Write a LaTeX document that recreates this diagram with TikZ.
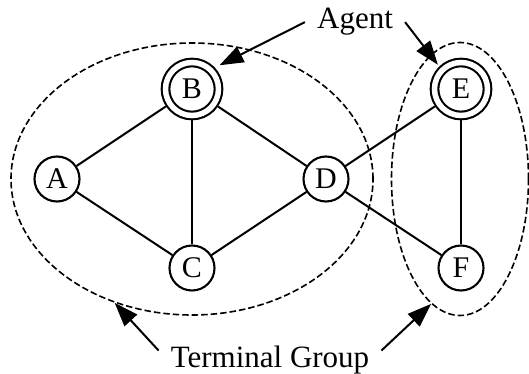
\documentclass[tikz,border=0pt]{standalone}
\usepackage{fontspec}
\setmainfont{Liberation Serif}
\usepackage{tikz}
\usetikzlibrary{arrows.meta,shapes}
\newcommand\vertexfont{\fontsize{30}{35}\selectfont}
\newcommand\tagfont{\fontsize{31}{36}\selectfont}
\tikzstyle{vertex}=[circle,draw=black,line width=2.1pt,minimum size=45pt,
                    inner sep=0pt,font=\vertexfont]
\tikzstyle{agentvertex}=[vertex,double,double distance=5.5pt,minimum size=53pt,
                         outer sep=5pt]
\tikzstyle{group}=[ellipse,draw=black,line width=1.6pt,
                   dash pattern=on 6.5pt off 3pt,inner sep=0pt]
\tikzstyle{tag}=[font=\tagfont,anchor=base,inner sep=12pt]
\tikzstyle{link}=[line width=2pt]
\tikzstyle{pointer}=[line width=2pt,-{Triangle[length=24pt,width=17pt]}]

\begin{document}
\begin{tikzpicture}[x=1pt,y=-1pt]
    \useasboundingbox (0,0) rectangle (529,374);
    % terminal groups
    \node [group,minimum width=362pt,minimum height=272pt] (grpL) at (192,179) {};
    \node [group,minimum width=137pt,minimum height=273pt] (grpR) at (460,179) {};
    % graph
    \node [vertex] (A) at (57,179) {A};
    \node [agentvertex] (B) at (192,89) {B};
    \node [vertex] (C) at (192,268) {C};
    \node [vertex] (D) at (326,179) {D};
    \node [agentvertex] (E) at (461,89) {E};
    \node [vertex] (F) at (461,268) {F};
    \draw [link] (A) -- (B);
    \draw [link] (A) -- (C);
    \draw [link] (B) -- (C);
    \draw [link] (B) -- (D);
    \draw [link] (C) -- (D);
    \draw [link] (D) -- (E);
    \draw [link] (D) -- (F);
    \draw [link] (E) -- (F);
    % labels
    \node [tag] (agent) at (355,29) {Agent};
    \node [tag] (term) at (270,367) {Terminal Group};
    \draw [pointer,shorten >=5pt] (agent.west) -- (B.43);
    \draw [pointer,shorten >=2pt] (agent.east) -- (E.134);
    \draw [pointer] ([yshift=9pt]term.west) -- (grpL.238);
    \draw [pointer] ([yshift=9pt]term.east) -- (grpR.257);
\end{tikzpicture}
\end{document}
